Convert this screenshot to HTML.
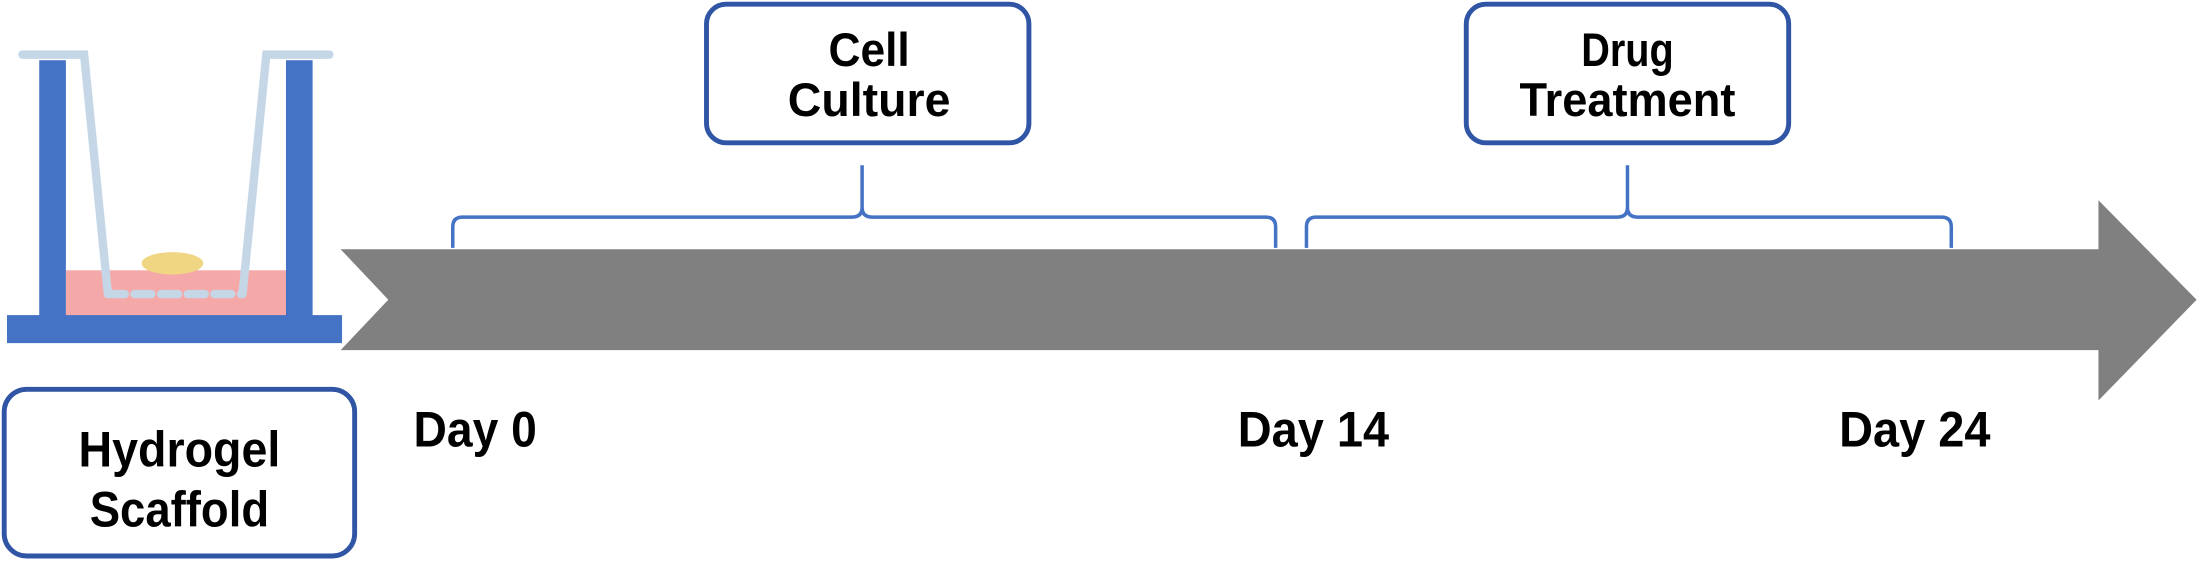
<!DOCTYPE html>
<html><head><meta charset="utf-8"><style>
html,body{margin:0;padding:0;background:#fff;}
svg{display:block;}
text{font-family:"Liberation Sans",sans-serif;font-weight:bold;fill:#000;}
</style></head><body>
<svg width="2198" height="563" viewBox="0 0 1568 402" preserveAspectRatio="none" xmlns="http://www.w3.org/2000/svg">
<rect x="0" y="0" width="1568" height="402" fill="#fff"/>
<!-- well -->
<rect x="47" y="193" width="157" height="33" fill="#f4a9a8"/>
<rect x="28" y="43" width="19" height="183" fill="#4472c4"/>
<rect x="204" y="43" width="19" height="183" fill="#4472c4"/>
<rect x="5" y="225" width="239" height="20" fill="#4472c4"/>
<ellipse cx="123" cy="188" rx="22" ry="8" fill="#f0d683"/>
<g stroke="#c5d7e7" stroke-width="6" stroke-linecap="round" fill="none">
<polyline points="16,39 60,39 77,210"/>
<polyline points="235,39 190,39 173,210"/>
<line x1="77" y1="210" x2="173" y2="210" stroke-dasharray="12,7"/>
</g>
<!-- hydrogel box -->
<rect x="3" y="278" width="250" height="119" rx="16" fill="#fff" stroke="#2f55a4" stroke-width="3.5"/>
<text x="128" y="333" font-size="36" text-anchor="middle" textLength="144" lengthAdjust="spacingAndGlyphs">Hydrogel</text>
<text x="128" y="376" font-size="36" text-anchor="middle" textLength="128" lengthAdjust="spacingAndGlyphs">Scaffold</text>
<!-- arrow -->
<polygon points="243,178 1497,178 1497,143 1567,214 1497,286 1497,250 243,250 277,214" fill="#808080"/>
<!-- boxes -->
<rect x="504" y="3" width="230" height="99" rx="14" fill="#fff" stroke="#2f55a4" stroke-width="3.5"/>
<text x="620" y="47" font-size="34" text-anchor="middle" textLength="58" lengthAdjust="spacingAndGlyphs">Cell</text>
<text x="620" y="83" font-size="34" text-anchor="middle" textLength="116" lengthAdjust="spacingAndGlyphs">Culture</text>
<rect x="1046" y="3" width="230" height="99" rx="14" fill="#fff" stroke="#2f55a4" stroke-width="3.5"/>
<text x="1161" y="47" font-size="34" text-anchor="middle" textLength="66" lengthAdjust="spacingAndGlyphs">Drug</text>
<text x="1161" y="83" font-size="34" text-anchor="middle" textLength="154" lengthAdjust="spacingAndGlyphs">Treatment</text>
<!-- braces -->
<g stroke="#4472c4" stroke-width="2.5" fill="none">
<path d="M323,177 L323,162 Q323,155 330,155 L608,155 Q615,155 615,148 L615,118 M615,148 Q615,155 622,155 L903,155 Q910,155 910,162 L910,177"/>
<path d="M932,177 L932,162 Q932,155 939,155 L1154,155 Q1161,155 1161,148 L1161,118 M1161,148 Q1161,155 1168,155 L1385,155 Q1392,155 1392,162 L1392,177"/>
</g>
<!-- day labels -->
<text x="295" y="319" font-size="36" textLength="88" lengthAdjust="spacingAndGlyphs">Day 0</text>
<text x="883" y="319" font-size="36" textLength="108" lengthAdjust="spacingAndGlyphs">Day 14</text>
<text x="1312" y="319" font-size="36" textLength="108" lengthAdjust="spacingAndGlyphs">Day 24</text>
</svg>
</body></html>
